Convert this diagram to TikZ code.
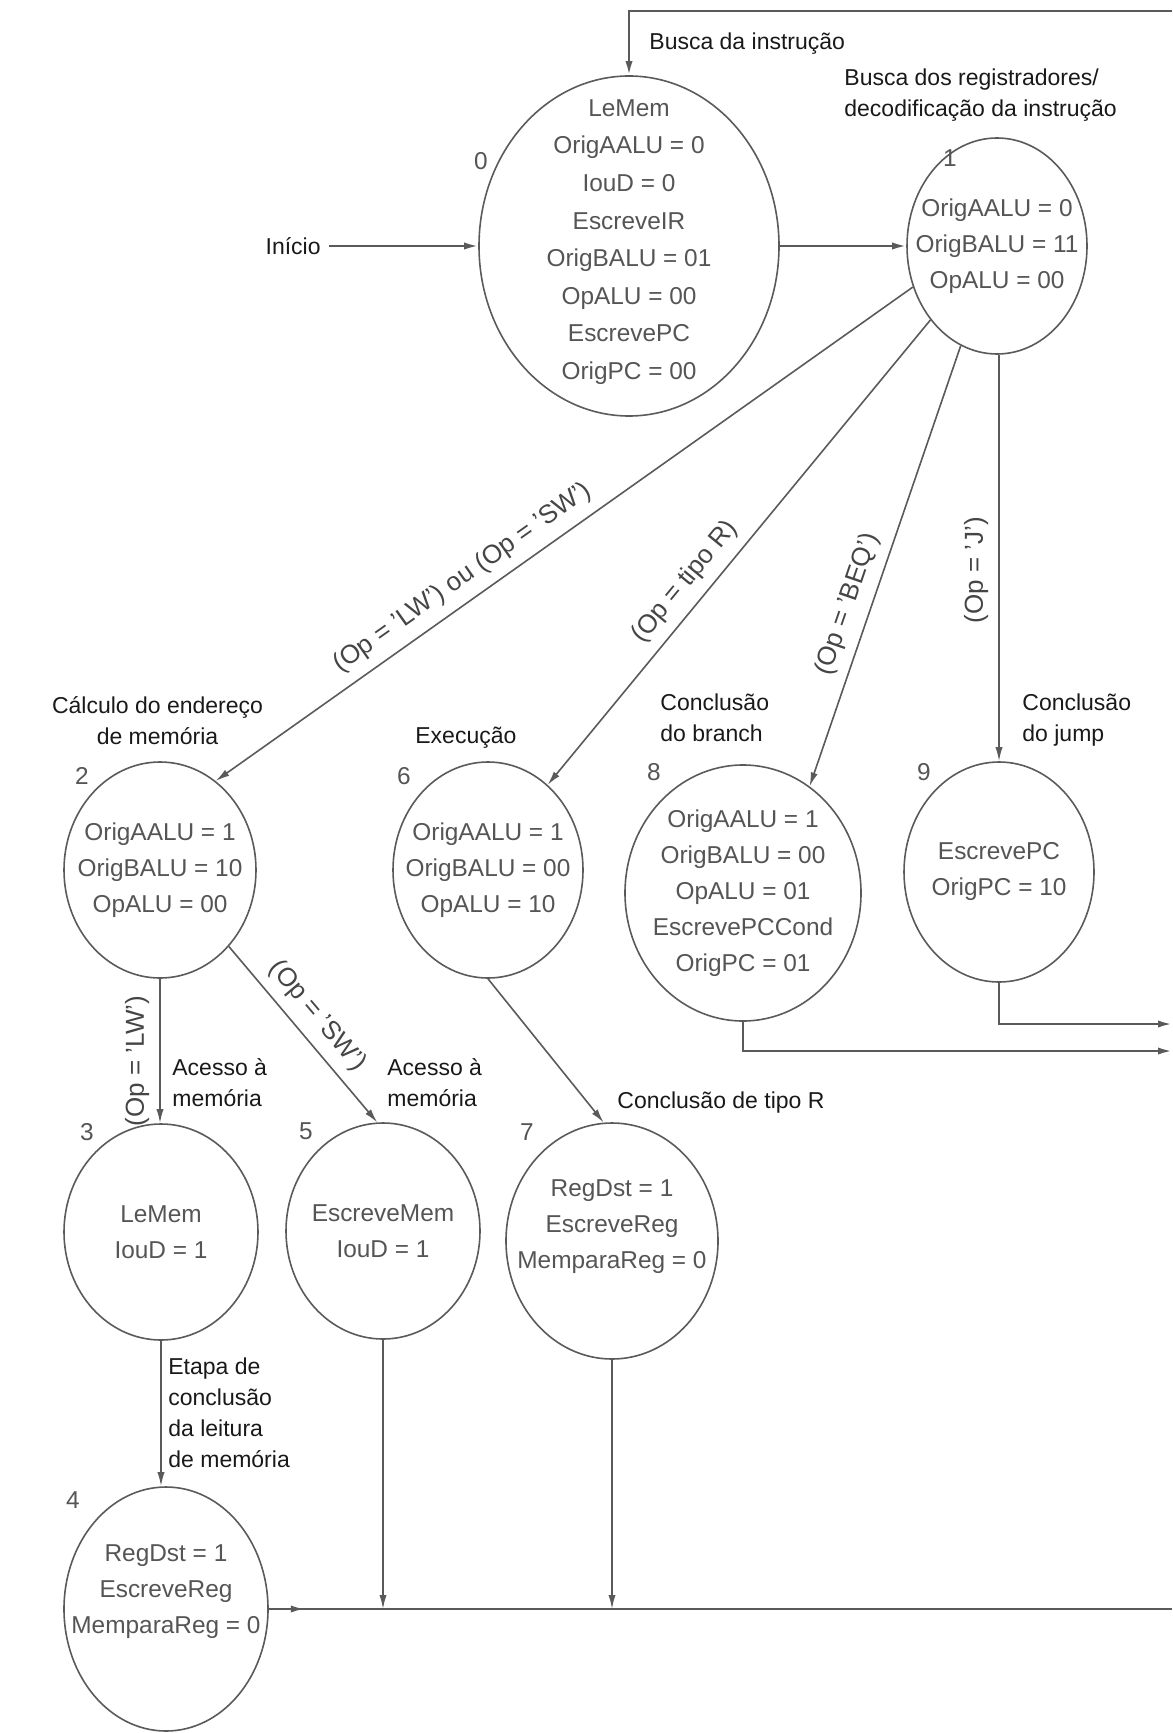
\documentclass[tikz,border=0pt]{standalone}
\usepackage{fontspec}
\setmainfont{Liberation Sans}
\usetikzlibrary{shapes.geometric}
\usetikzlibrary{arrows.meta}
\usetikzlibrary{decorations.markings}

\definecolor{linegray}{HTML}{5A5A5A}
\definecolor{txtgray}{HTML}{555555}
\definecolor{edgegray}{HTML}{454545}

\begin{document}
\begin{tikzpicture}[
    x=0.5pt, y=-0.5pt,
    >={Latex[length=7pt,width=3.6pt]},
    state/.style={ellipse, draw=linegray, line width=0.8pt, inner sep=0pt},
    statetxt/.style={text=txtgray, align=center, font=\fontsize{12.2}{18}\selectfont},
    num/.style={text=txtgray, font=\fontsize{12.2}{14}\selectfont, inner sep=0pt},
    lbl/.style={text=black!90, font=\fontsize{11.5}{15.5}\selectfont, inner sep=0pt},
    elabel/.style={text=edgegray, font=\fontsize{13}{15}\selectfont, inner sep=5pt},
    trans/.style={draw=linegray, line width=0.8pt, ->},
    trunk/.style={draw=linegray, line width=1.1pt}
  ]
  \useasboundingbox (0,0) rectangle (1172,1733);

  % estados
  \node[state, minimum width=150pt, minimum height=170pt,
        label={[statetxt, yshift=2pt, font=\fontsize{12.2}{18.8}\selectfont]center:LeMem\\OrigAALU = 0\\IouD = 0\\EscreveIR\\OrigBALU = 01\\OpALU = 00\\EscrevePC\\OrigPC = 00}]
        (s0) at (629,246) {};
  \node[state, minimum width=90pt, minimum height=108pt,
        label={[statetxt]center:OrigAALU = 0\\OrigBALU = 11\\OpALU = 00}]
        (s1) at (997,246) {};
  \node[state, minimum width=96pt, minimum height=108pt,
        label={[statetxt]center:OrigAALU = 1\\OrigBALU = 10\\OpALU = 00}]
        (s2) at (160,870) {};
  \node[state, minimum width=95pt, minimum height=108pt,
        label={[statetxt]center:OrigAALU = 1\\OrigBALU = 00\\OpALU = 10}]
        (s6) at (488,870) {};
  \node[state, minimum width=118pt, minimum height=128pt,
        label={[statetxt]center:OrigAALU = 1\\OrigBALU = 00\\OpALU = 01\\EscrevePCCond\\OrigPC = 01}]
        (s8) at (743,893) {};
  \node[state, minimum width=95pt, minimum height=110pt,
        label={[statetxt]center:EscrevePC\\OrigPC = 10}]
        (s9) at (999,872) {};
  \node[state, minimum width=97pt, minimum height=108pt,
        label={[statetxt]center:LeMem\\IouD = 1}]
        (s3) at (161,1232) {};
  \node[state, minimum width=97pt, minimum height=108pt,
        label={[statetxt]center:EscreveMem\\IouD = 1}]
        (s5) at (383,1231) {};
  \node[state, minimum width=106pt, minimum height=118pt,
        label={[statetxt, yshift=7pt]center:RegDst = 1\\EscreveReg\\MemparaReg = 0}]
        (s7) at (612,1241) {};
  \node[state, minimum width=102pt, minimum height=122pt,
        label={[statetxt, yshift=8.5pt]center:RegDst = 1\\EscreveReg\\MemparaReg = 0}]
        (s4) at (166,1609) {};

  % numeros dos estados
  \node[num] (n0) at (481,161) {0};
  \node[num] (n1) at (950,158) {1};
  \node[num] (n2) at (82,776) {2};
  \node[num] (n6) at (404,776) {6};
  \node[num] (n8) at (654,772) {8};
  \node[num] (n9) at (924,772) {9};
  \node[num] (n3) at (87,1132) {3};
  \node[num] (n5) at (306,1131) {5};
  \node[num] (n7) at (527,1132) {7};
  \node[num] (n4) at (73,1500) {4};

  % etapas
  \node[lbl, anchor=base west] (busca) at (649,50) {Busca da instrução};
  \node[lbl, anchor=base west, align=left] (decod) at (844,117) {Busca dos registradores/\\decodificação da instrução};
  \node[lbl, anchor=east, inner xsep=4pt] (inicio) at (329,246) {Início};
  \node[lbl, anchor=base, align=center] (calc) at (157.5,744) {Cálculo do endereço\\de memória};
  \node[lbl, anchor=base west] (exec) at (415,743) {Execução};
  \node[lbl, anchor=base west, align=left] (branch) at (660,741) {Conclusão\\do branch};
  \node[lbl, anchor=base west, align=left] (jump) at (1022,741) {Conclusão\\do jump};
  \node[lbl, anchor=base west, align=left] (acc3) at (172,1106) {Acesso à\\memória};
  \node[lbl, anchor=base west, align=left] (acc5) at (387,1106) {Acesso à\\memória};
  \node[lbl, anchor=base west] (tipor) at (617,1108) {Conclusão de tipo R};
  \node[lbl, anchor=base west, align=left] (etapa) at (168,1467) {Etapa de\\conclusão\\da leitura\\de memória};

  % retornos ao estado 0
  \coordinate (retT) at (1172,11);
  \coordinate (ret9) at (1172,1024);
  \coordinate (ret8) at (1172,1051);
  \coordinate (retB) at (1172,1609);

  \draw[trunk, ->] (retT) -| (s0.north);
  \draw[trunk, ->] (inicio) -- (s0);
  \draw[trunk, ->] (s0) -- (s1);

  \draw[trans] (s1.206.3) -- node[elabel, sloped, above, pos=.627] {(Op = 'LW') ou (Op = 'SW')} (s2.58.3);
  \draw[trans] (s1.228.3) -- node[elabel, sloped, above, pos=.595] {(Op = tipo R)} (s6.55.4);
  \draw[trans] (s1.250) -- node[elabel, sloped, above, pos=.604] {(Op = 'BEQ')} (s8.58.2);
  \draw[trans] (s9.north |- s1.south) -- node[elabel, rotate=90, anchor=south, pos=.53] {(Op = 'J')} (s9.north);

  \draw[trans] (s2.south) -- node[elabel, rotate=90, anchor=south, pos=.57] {(Op = 'LW')} (s2.south |- s3.north);
  \draw[trans] (s2.312.2) -- node[elabel, sloped, above, pos=.48] {(Op = 'SW')} (s5.93.3);
  \draw[trans] (s6.south) -- (s7.94.3);
  \draw[trans] (s3.south) -- (s3.south |- s4.north);

  \draw[trunk, ->] (s9.south) |- (ret9);
  \draw[trunk, ->] (s8.south) |- (ret8);
  \draw[trans] (s5.south) -- (s5.south |- s4.east);
  \draw[trans] (s7.south) -- (s7.south |- s4.east);
  \draw[trunk, postaction={decorate},
        decoration={markings, mark=at position 18pt with {\arrow{>}}}] (s4.east) -- (retB);
\end{tikzpicture}
\end{document}
